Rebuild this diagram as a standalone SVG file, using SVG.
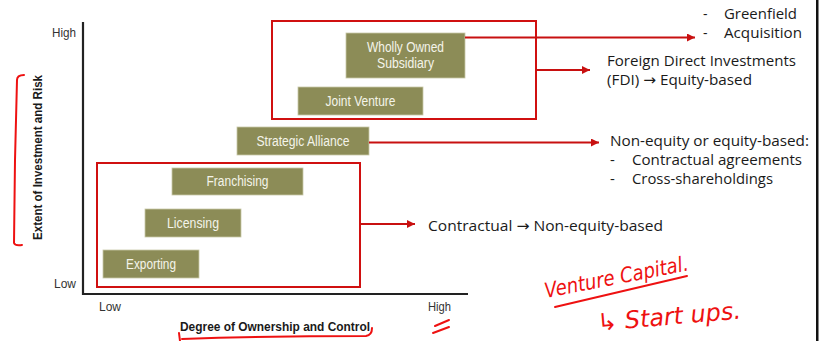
<svg xmlns="http://www.w3.org/2000/svg" width="821" height="341" viewBox="0 0 821 341">
<defs>
<style>
.box{fill:#8c8c57;stroke:#c9c9a8;stroke-width:0.8}
.bt{font-family:"Liberation Sans",Arial,sans-serif;font-size:14px;fill:#f4f4ea;text-anchor:middle}
.ax{font-family:"Liberation Sans",Arial,sans-serif;font-size:12.5px;fill:#333}
.axb{font-family:"Liberation Sans",Arial,sans-serif;font-size:13px;font-weight:bold;fill:#1a1a1a}
.rt{font-family:"Open Sans","Noto Sans","DejaVu Sans",sans-serif;font-size:15px;fill:#1a1a1a}
.rs{font-size:14px}
.red{fill:none;stroke:#d01010;stroke-width:2}
.conn{fill:none;stroke:#c81010;stroke-width:2}
.ink{fill:none;stroke:#ee1111;stroke-width:2;stroke-linecap:round;stroke-linejoin:round}
.hw{font-family:"DejaVu Sans","Liberation Sans",sans-serif;font-style:italic;fill:#ee1111}
</style>
<marker id="ah" viewBox="0 0 10 10" refX="10" refY="5" markerWidth="10" markerHeight="8" markerUnits="userSpaceOnUse" orient="auto">
<path d="M0,0 L10,5 L0,10 Z" fill="#c81010"/>
</marker>
</defs>
<rect width="821" height="341" fill="#ffffff"/>
<rect x="816" y="0" width="2.5" height="341" fill="#111"/>

<g id="axes">
<path d="M83,22 V294 H468" fill="none" stroke="#222" stroke-width="2.2"/>
<text class="ax" x="52" y="37" textLength="24" lengthAdjust="spacingAndGlyphs">High</text>
<text class="ax" x="54" y="288" textLength="22" lengthAdjust="spacingAndGlyphs">Low</text>
<text class="ax" x="99" y="311" textLength="22" lengthAdjust="spacingAndGlyphs">Low</text>
<text class="ax" x="428" y="311" textLength="23" lengthAdjust="spacingAndGlyphs">High</text>
<text class="axb" x="180" y="331" textLength="190" lengthAdjust="spacingAndGlyphs">Degree of Ownership and Control</text>
<text class="axb" transform="translate(42,240) rotate(-90)" x="0" y="0" textLength="165" lengthAdjust="spacingAndGlyphs">Extent of Investment and Risk</text>
</g>

<g id="group-fdi"><rect class="red" x="272" y="21" width="264" height="98"/></g>
<g id="group-contractual"><rect class="red" x="97" y="163" width="263" height="124"/></g>

<g id="wholly-owned">
<rect class="box" x="346" y="33" width="119" height="45"/>
<text class="bt" x="405.5" y="52" textLength="77" lengthAdjust="spacingAndGlyphs">Wholly Owned</text>
<text class="bt" x="405.5" y="68" textLength="57" lengthAdjust="spacingAndGlyphs">Subsidiary</text>
</g>
<g id="joint-venture">
<rect class="box" x="298" y="87" width="125" height="28"/>
<text class="bt" x="360.5" y="106" textLength="70" lengthAdjust="spacingAndGlyphs">Joint Venture</text>
</g>
<g id="strategic-alliance">
<rect class="box" x="237" y="127" width="132" height="28"/>
<text class="bt" x="303" y="146" textLength="93" lengthAdjust="spacingAndGlyphs">Strategic Alliance</text>
</g>
<g id="franchising">
<rect class="box" x="172" y="168" width="131" height="27"/>
<text class="bt" x="237.5" y="186" textLength="62" lengthAdjust="spacingAndGlyphs">Franchising</text>
</g>
<g id="licensing">
<rect class="box" x="145" y="209" width="96" height="28"/>
<text class="bt" x="193" y="228" textLength="52" lengthAdjust="spacingAndGlyphs">Licensing</text>
</g>
<g id="exporting">
<rect class="box" x="103" y="250" width="96" height="28"/>
<text class="bt" x="151" y="269" textLength="50" lengthAdjust="spacingAndGlyphs">Exporting</text>
</g>

<g id="connectors">
<line class="conn" x1="465" y1="37.5" x2="695" y2="37.5" marker-end="url(#ah)"/>
<line class="conn" x1="536" y1="70" x2="590" y2="70" marker-end="url(#ah)"/>
<line class="conn" x1="369" y1="142.5" x2="599" y2="142.5" marker-end="url(#ah)"/>
<line class="conn" x1="360" y1="224" x2="415" y2="224" marker-end="url(#ah)"/>
</g>

<g id="note-wos">
<text class="rt rs" x="703" y="19">-</text>
<text class="rt rs" x="724" y="19" textLength="73" lengthAdjust="spacingAndGlyphs">Greenfield</text>
<text class="rt rs" x="703" y="38">-</text>
<text class="rt rs" x="724" y="38" textLength="78" lengthAdjust="spacingAndGlyphs">Acquisition</text>
</g>
<g id="note-fdi">
<text class="rt" x="607" y="66" textLength="189" lengthAdjust="spacingAndGlyphs">Foreign Direct Investments</text>
<text class="rt" x="607" y="85" textLength="145" lengthAdjust="spacingAndGlyphs">(FDI) → Equity-based</text>
</g>
<g id="note-alliance">
<text class="rt" x="610" y="146" textLength="199" lengthAdjust="spacingAndGlyphs">Non-equity or equity-based:</text>
<text class="rt" x="610" y="165">-</text>
<text class="rt" x="632" y="165" textLength="170" lengthAdjust="spacingAndGlyphs">Contractual agreements</text>
<text class="rt" x="610" y="184">-</text>
<text class="rt" x="632" y="184" textLength="141" lengthAdjust="spacingAndGlyphs">Cross-shareholdings</text>
</g>
<g id="note-contractual">
<text class="rt" x="428" y="231" textLength="235" lengthAdjust="spacingAndGlyphs">Contractual → Non-equity-based</text>
</g>

<g id="annotations">
<path class="ink" d="M24,75 Q17,75 17,80 L15,160 L14,243 Q15,246 22,245"/>
<path class="ink" d="M179,333 L180,341 M182,339 Q270,336 366,336 Q372,335 372,328"/>
<path class="ink" d="M435,326 L449,320 M433,333 L449,327"/>
<text class="hw" transform="translate(546,298) rotate(-11)" font-size="21" textLength="146" lengthAdjust="spacingAndGlyphs">Venture Capital.</text>
<path class="ink" d="M555,307 Q620,292 687,276"/>
<text class="hw" transform="translate(598,331) rotate(-5)" font-size="24" textLength="144" lengthAdjust="spacingAndGlyphs">↳ Start ups.</text>
</g>
</svg>
